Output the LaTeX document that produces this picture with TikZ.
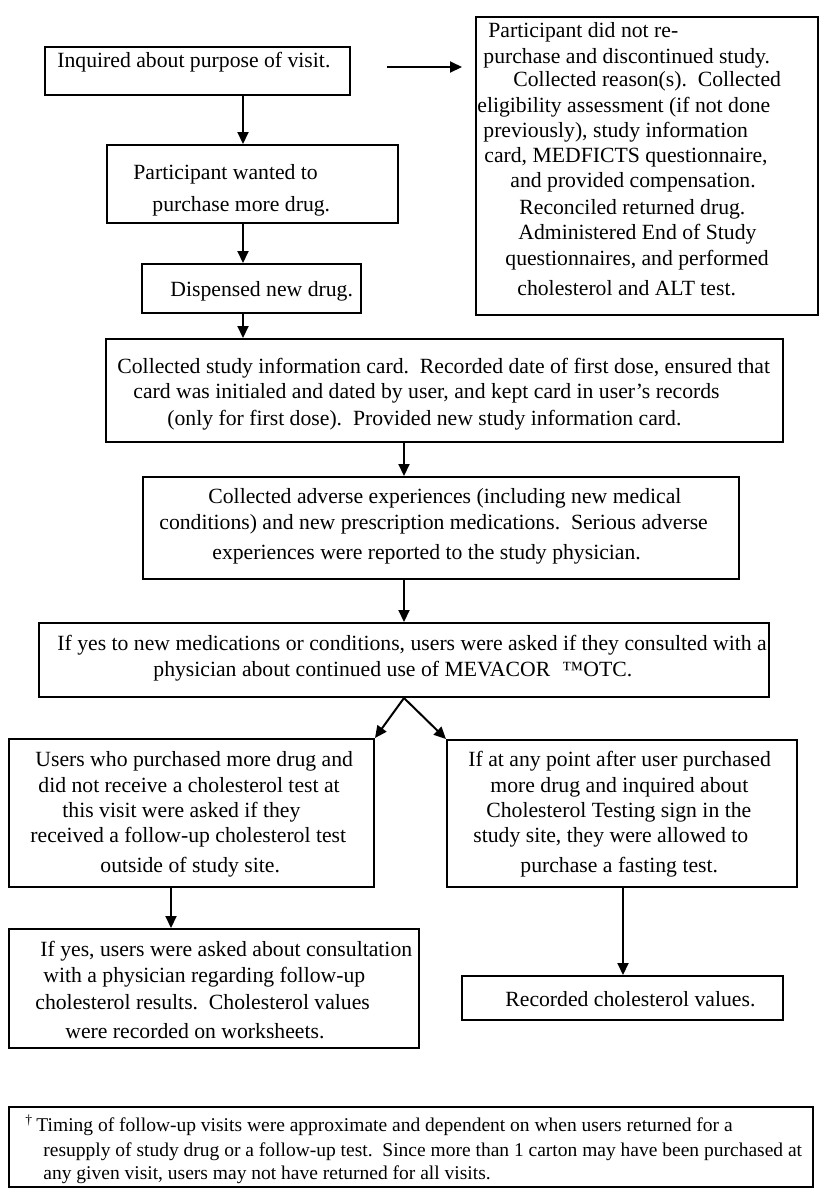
\documentclass[tikz,border=0pt]{standalone}
\usepackage{fontspec}
\setmainfont{Liberation Serif}
\usetikzlibrary{arrows.meta,fit}
\begin{document}
\begin{tikzpicture}[x=0.5pt,y=-0.5pt,
  box/.style={draw=black,line width=1pt,inner sep=0pt},
  txt/.style={anchor=mid west,inner sep=0pt,font=\fontsize{10.85}{13}\selectfont},
  note/.style={anchor=mid west,inner sep=0pt,font=\fontsize{9.75}{12}\selectfont},
  arr/.style={line width=1pt,-{Triangle[length=6pt,width=5.5pt]}}]
\fill[white] (0,0) rectangle (820,1190);
\useasboundingbox (0,0) rectangle (820,1190);

% boxes
\node[box,fit={(45,47) (350,95)}] (inq) {};
\node[box,fit={(476,17) (818,315)}] (stop) {};
\node[box,fit={(107,145) (398,223)}] (want) {};
\node[box,fit={(142,264) (361,313)}] (disp) {};
\node[box,fit={(106,339) (783,442)}] (card) {};
\node[box,fit={(143,477) (739,579)}] (adv) {};
\node[box,fit={(39,623) (769,697)}] (meds) {};
\node[box,fit={(9,739) (374,887)}] (notest) {};
\node[box,fit={(447,740) (797,887)}] (fast) {};
\node[box,fit={(9,929) (419,1048)}] (consult) {};
\node[box,fit={(462,976) (783,1020)}] (rec) {};
\node[box,fit={(9,1107) (813,1187)}] (foot) {};

% box texts
\node[txt] (inq1) at (57,63) {Inquired about purpose of visit.};

\node[txt] (stop1) at (488,33) {Participant did not re-};
\node[txt] (stop2) at (483,59) {purchase and discontinued study.};
\node[txt] (stop3) at (513,82) {Collected reason(s).~~Collected};
\node[txt] (stop4) at (477,108) {eligibility assessment (if not done};
\node[txt] (stop5) at (483,133) {previously), study information};
\node[txt] (stop6) at (484,158) {card, MEDFICTS questionnaire,};
\node[txt] (stop7) at (510,183) {and provided compensation.};
\node[txt] (stop8) at (519,210) {Reconciled returned drug.};
\node[txt] (stop9) at (518,235) {Administered End of Study};
\node[txt] (stop10) at (505,261) {questionnaires, and performed};
\node[txt] (stop11) at (517,291) {cholesterol and ALT test.};

\node[txt] (want1) at (133,175) {Participant wanted to};
\node[txt] (want2) at (152,207) {purchase more drug.};

\node[txt] (disp1) at (170,292) {Dispensed new drug.};

\node[txt] (card1) at (117,369) {Collected study information card.~~Recorded date of first dose, ensured that};
\node[txt] (card2) at (133,394) {card was initialed and dated by user, and kept card in user’s records};
\node[txt] (card3) at (167,421) {(only for first dose).~~Provided new study information card.};

\node[txt] (adv1) at (208,499) {Collected adverse experiences (including new medical};
\node[txt] (adv2) at (159,525) {conditions) and new prescription medications.~~Serious adverse};
\node[txt] (adv3) at (212,555) {experiences were reported to the study physician.};

\node[txt] (meds1) at (57,646) {If yes to new medications or conditions, users were asked if they consulted with a};
\node[txt] (meds2) at (153,672) {physician about continued use of MEVACOR\hspace{0.55em}™OTC.};

\node[txt] (notest1) at (35,762) {Users who purchased more drug and};
\node[txt] (notest2) at (38,788) {did not receive a cholesterol test at};
\node[txt] (notest3) at (62,813) {this visit were asked if they};
\node[txt] (notest4) at (30,838) {received a follow-up cholesterol test};
\node[txt] (notest5) at (100,868) {outside of study site.};

\node[txt] (fast1) at (468,762) {If at any point after user purchased};
\node[txt] (fast2) at (490,788) {more drug and inquired about};
\node[txt] (fast3) at (486,813) {Cholesterol Testing sign in the};
\node[txt] (fast4) at (473,838) {study site, they were allowed to};
\node[txt] (fast5) at (520,868) {purchase a fasting test.};

\node[txt] (consult1) at (40,952) {If yes, users were asked about consultation};
\node[txt] (consult2) at (43,978) {with a physician regarding follow-up};
\node[txt] (consult3) at (35,1005) {cholesterol results.~~Cholesterol values};
\node[txt] (consult4) at (65,1034) {were recorded on worksheets.};

\node[txt] (rec1) at (505,1002) {Recorded cholesterol values.};

\node[note] (foot1) at (25,1127) {\textsuperscript{†}\,Timing of follow-up visits were approximate and dependent on when users returned for a};
\node[note] (foot2) at (43,1152) {resupply of study drug or a follow-up test.~~Since more than 1 carton may have been purchased at};
\node[note] (foot3) at (43,1175) {any given visit, users may not have returned for all visits.};

% connector columns
\coordinate (colA) at (243,0);
\coordinate (colB) at (404,0);
\coordinate (colC) at (171,0);
\coordinate (colD) at (623,0);
\coordinate (sideA) at (387,67);
\coordinate (sideB) at (462,67);

% connectors
\draw[arr] (sideA) -- (sideB);
\draw[arr] (inq.south -| colA) -- (want.north -| colA);
\draw[arr] (want.south -| colA) -- (disp.north -| colA);
\draw[arr] (disp.south -| colA) -- (card.north -| colA);
\draw[arr] (card.south -| colB) -- (adv.north -| colB);
\draw[arr] (adv.south -| colB) -- (meds.north -| colB);
\draw[arr] (meds.south -| colB) -- (notest.north east);
\draw[arr] (meds.south -| colB) -- (fast.north west);
\draw[arr] (notest.south -| colC) -- (consult.north -| colC);
\draw[arr] (fast.south -| colD) -- (rec.north -| colD);
\end{tikzpicture}
\end{document}
